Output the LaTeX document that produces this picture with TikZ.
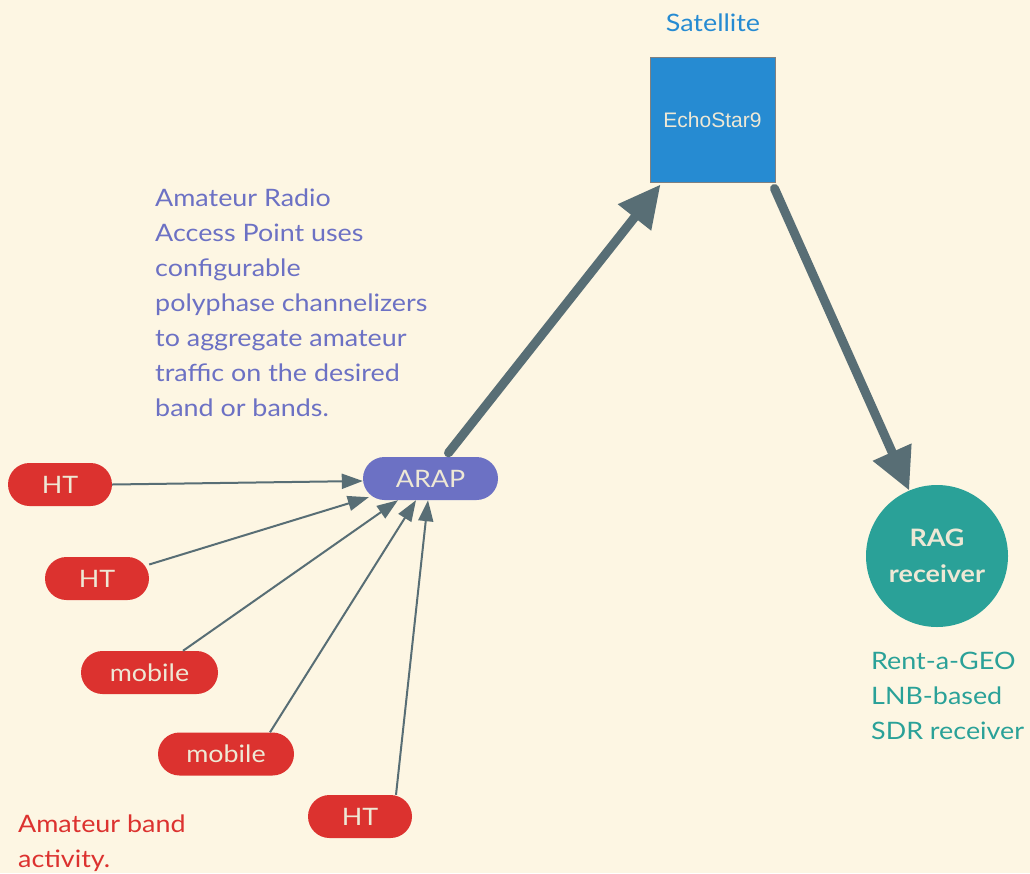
\documentclass[tikz,border=0pt]{standalone}
\usepackage{fontspec}
\setmainfont[FakeStretch=1.12]{Lato}
\newfontfamily\helv{Liberation Sans}
\usetikzlibrary{arrows.meta}
\definecolor{bgc}{HTML}{FDF6E3}
\definecolor{solblue}{HTML}{268BD2}
\definecolor{solviolet}{HTML}{6C71C4}
\definecolor{solred}{HTML}{DC322F}
\definecolor{solcyan}{HTML}{2AA198}
\definecolor{solgray}{HTML}{586E75}
\definecolor{lighttext}{HTML}{EEE8D5}
\begin{document}
\begin{tikzpicture}[x=1pt,y=-1pt,
  pill/.style={rectangle, rounded corners=21.5pt, minimum height=43pt, inner sep=0pt, text=lighttext, font=\fontsize{24}{29}\selectfont},
  redpill/.style={pill, fill=solred},
  label/.style={inner sep=0pt, align=left, font=\fontsize{24}{35}\selectfont},
  thin/.style={draw=solgray, line width=2pt, -{Triangle[length=21pt,width=15pt]}},
  thick/.style={draw=solgray, line width=9pt, line cap=round, -{Triangle[length=42pt,width=40pt]}}
]
\fill[bgc] (0,0) rectangle (1030,873);
\useasboundingbox (0,0) rectangle (1030,873);

% satellite
\node[draw=gray, line width=1pt, fill=solblue, minimum size=125pt, inner sep=0pt, text=lighttext, font=\helv\fontsize{21}{25}\selectfont] (sat) at (712.5,119.5) {EchoStar9};
\node[anchor=base, text=solblue, inner sep=0pt, font=\fontsize{24}{29}\selectfont] (sattitle) at (713,31) {Satellite};

% text block
\node[label, text=solviolet, anchor=north west] (desc) at (155,189) {Amateur Radio\\Access Point uses\\configurable\\polyphase channelizers\\to aggregate amateur\\traffic on the desired\\band or bands.};

% ARAP
\node[pill, fill=solviolet, minimum width=135pt] (arap) at (430.5,478.5) {ARAP};

% sources
\node[redpill, minimum width=104pt] (ht1) at (60,484.5) {HT};
\node[redpill, minimum width=104pt] (ht2) at (97,578.5) {HT};
\node[redpill, minimum width=137pt] (mob1) at (149.5,672.5) {mobile};
\node[redpill, minimum width=136pt] (mob2) at (226,754) {mobile};
\node[redpill, minimum width=104pt] (ht3) at (360,816.5) {HT};

\node[label, text=solred, anchor=north west] (band) at (18,815) {Amateur band\\activity.};

% RAG receiver
\node[circle, fill=solcyan, minimum size=142pt, inner sep=0pt, text=lighttext, align=center, font=\bfseries\fontsize{24}{36}\selectfont] (rag) at (937,556) {RAG\\receiver};
\node[label, text=solcyan, anchor=north west] (ragdesc) at (871,652) {Rent-a-GEO\\LNB-based\\SDR receiver};

% connectors
\draw[thin] (ht1.east) -- ([yshift=-2.5pt]arap.west);
\draw[thin] ([yshift=14pt]ht2.east) -- ([xshift=6pt,yshift=3pt]arap.south west);
\draw[thin] ([xshift=33.5pt]mob1.north) -- ([xshift=-32.5pt]arap.south);
\draw[thin] ([xshift=44pt]mob2.north) -- ([xshift=-14.5pt]arap.south);
\draw[thin] ([xshift=36pt]ht3.north) -- ([xshift=-2.5pt]arap.south);

\draw[thick] ([xshift=18pt,yshift=4pt]arap.north) -- ([xshift=11pt,yshift=-2pt]sat.south west);
\draw[thick] ([xshift=-1pt,yshift=-6pt]sat.south east) -- (rag.113);
\end{tikzpicture}
\end{document}
